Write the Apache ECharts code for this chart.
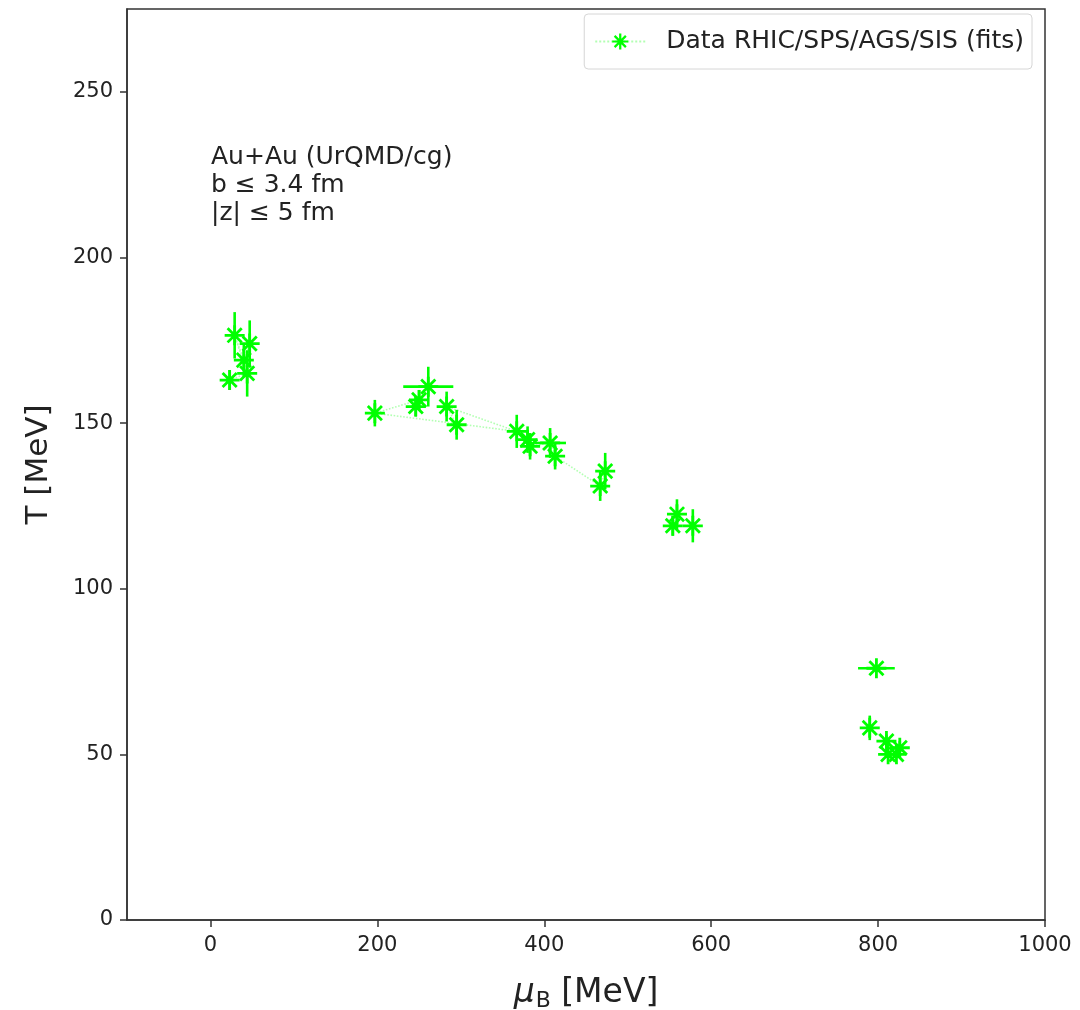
<!DOCTYPE html>
<html>
<head>
<meta charset="utf-8">
<script src="https://cdn.jsdelivr.net/npm/echarts@6/dist/echarts.min.js"></script>
<style>
  html, body { margin: 0; padding: 0; background: #ffffff; }
  #chart { width: 1080px; height: 1010px; }
</style>
</head>
<body>
<div id="chart"></div>
<script>
// Freeze-out fits: baryon chemical potential (MeV) and temperature (MeV)
const muB   = [29, 47, 23, 44, 40, 197, 246, 250, 261, 283, 295, 367, 380, 383, 407, 413, 473, 467, 559, 554, 578, 798, 790, 810, 812, 822, 826];
const temp  = [176.5, 174, 163, 165, 169, 153, 155, 157, 161, 155, 149.5, 147.5, 145, 143, 144, 140, 135.5, 131, 122.5, 119, 119, 76, 58, 54, 50, 50, 52];
const muErr = [0, 0, 0, 0, 0, 0, 0, 0, 30, 0, 0, 0, 0, 0, 19, 0, 0, 0, 0, 0, 0, 22, 0, 0, 0, 0, 0];
const tErr  = [7, 7, 3, 7, 5, 4, 3, 3, 6, 4.5, 4.5, 5, 4, 4, 4.5, 4, 5.5, 4.5, 4.5, 3, 5, 1, 3.7, 2, 1, 1, 2];

// Order in which the points are joined by the dotted guide line
const chains = [
  [2, 3, 0, 4, 1],
  [8, 6, 7, 5, 11, 9, 10],
  [12, 13, 14, 15, 17, 16],
  [18, 19, 20],
  [21],
  [22, 23, 24, 25, 26]
];

const xTicks = [0, 200, 400, 600, 800, 1000];
const yTicks = [0, 50, 100, 150, 200, 250];

const SERIES_NAME = 'Data RHIC/SPS/AGS/SIS (fits)';
const GREEN = '#00ff00';
const FONT = 'DejaVu Sans';

// eight-armed asterisk marker
const ASTERISK = 'path://' +
  'M-1.4,-10L1.4,-10L1.4,10L-1.4,10Z' +
  'M-10,-1.4L10,-1.4L10,1.4L-10,1.4Z' +
  'M-8.06,-6.08L-6.08,-8.06L8.06,6.08L6.08,8.06Z' +
  'M-6.08,8.06L-8.06,6.08L6.08,-8.06L8.06,-6.08Z';

const errData = muB.map((m, i) => [m, temp[i], muErr[i], tErr[i]]);

const chart = echarts.init(document.getElementById('chart'), null, { renderer: 'canvas' });

const lineSeries = chains.map(idx => ({
  name: SERIES_NAME,
  type: 'line',
  data: idx.map(i => [muB[i], temp[i]]),
  symbol: ASTERISK,
  symbolSize: 20,
  showSymbol: true,
  showAllSymbol: true,
  itemStyle: { color: GREEN, opacity: 1 },
  lineStyle: { color: GREEN, width: 1.6, type: 'dotted', opacity: 0.3 },
  emphasis: { disabled: true },
  animation: false,
  z: 3
}));

const errorSeries = {
  name: 'errors',
  type: 'custom',
  data: errData,
  encode: { x: 0, y: 1 },
  animation: false,
  z: 2,
  renderItem: function (params, api) {
    const x = api.value(0), y = api.value(1), dx = api.value(2), dy = api.value(3);
    const children = [];
    const style = { stroke: GREEN, lineWidth: 2.6 };
    if (dy > 0) {
      const a = api.coord([x, y - dy]), b = api.coord([x, y + dy]);
      children.push({ type: 'line', shape: { x1: a[0], y1: a[1], x2: b[0], y2: b[1] }, style: style });
    }
    if (dx > 0) {
      const a = api.coord([x - dx, y]), b = api.coord([x + dx, y]);
      children.push({ type: 'line', shape: { x1: a[0], y1: a[1], x2: b[0], y2: b[1] }, style: style });
    }
    return { type: 'group', children: children };
  }
};

const option = {
  backgroundColor: '#ffffff',
  animation: false,
  textStyle: { fontFamily: FONT },
  grid: {
    left: 127, right: 35, top: 9, bottom: 90,
    containLabel: false,
    outerBoundsMode: 'none',
    show: true, borderColor: '#333333', borderWidth: 1.5, backgroundColor: 'transparent'
  },
  legend: {
    data: [SERIES_NAME],
    right: 48, top: 14,
    itemWidth: 50, itemHeight: 20,
    padding: [15, 8, 15, 10],
    borderColor: '#d6d6d6', borderWidth: 1, borderRadius: 4,
    textStyle: { fontSize: 25, color: '#222222', fontFamily: FONT, padding: [0, 0, 0, 16] },
    selectedMode: false
  },
  xAxis: {
    type: 'value',
    min: -100, max: 1000,
    name: '{m|μ}{s|B}{n| [MeV]}',
    nameLocation: 'middle',
    nameGap: 54,
    nameTextStyle: {
      rich: {
        m: { fontSize: 33, fontStyle: 'italic', fontFamily: FONT, color: '#222' },
        s: { fontSize: 22, fontFamily: FONT, color: '#222', verticalAlign: 'bottom', padding: [16, 0, 0, 1] },
        n: { fontSize: 33, fontFamily: FONT, color: '#222' }
      }
    },
    axisLine: { show: true, onZero: false, lineStyle: { color: '#333333', width: 1.5 } },
    axisTick: { show: true, inside: false, length: 7, customValues: xTicks, lineStyle: { color: '#333333', width: 1.5 } },
    axisLabel: {
      customValues: xTicks, fontSize: 21, color: '#222222', margin: 15, fontFamily: FONT,
      formatter: v => String(v)
    },
    splitLine: { show: false }
  },
  yAxis: {
    type: 'value',
    min: 0, max: 275,
    name: 'T [MeV]',
    nameLocation: 'middle',
    nameGap: 73,
    nameRotate: 90,
    nameTextStyle: { fontSize: 31, color: '#222222', fontFamily: FONT },
    axisLine: { show: true, onZero: false, lineStyle: { color: '#333333', width: 1.5 } },
    axisTick: { show: true, inside: false, length: 7, customValues: yTicks, lineStyle: { color: '#333333', width: 1.5 } },
    axisLabel: {
      customValues: yTicks, fontSize: 21, color: '#222222', margin: 14, fontFamily: FONT,
      formatter: v => String(v)
    },
    splitLine: { show: false }
  },
  graphic: [
    {
      type: 'text',
      left: 211, top: 143,
      style: {
        text: 'Au+Au (UrQMD/cg)\nb ≤ 3.4 fm\n|z| ≤ 5 fm',
        font: '25px "DejaVu Sans"',
        fill: '#222222',
        lineHeight: 28
      }
    }
  ],
  series: [errorSeries].concat(lineSeries)
};

chart.setOption(option);
</script>
</body>
</html>
